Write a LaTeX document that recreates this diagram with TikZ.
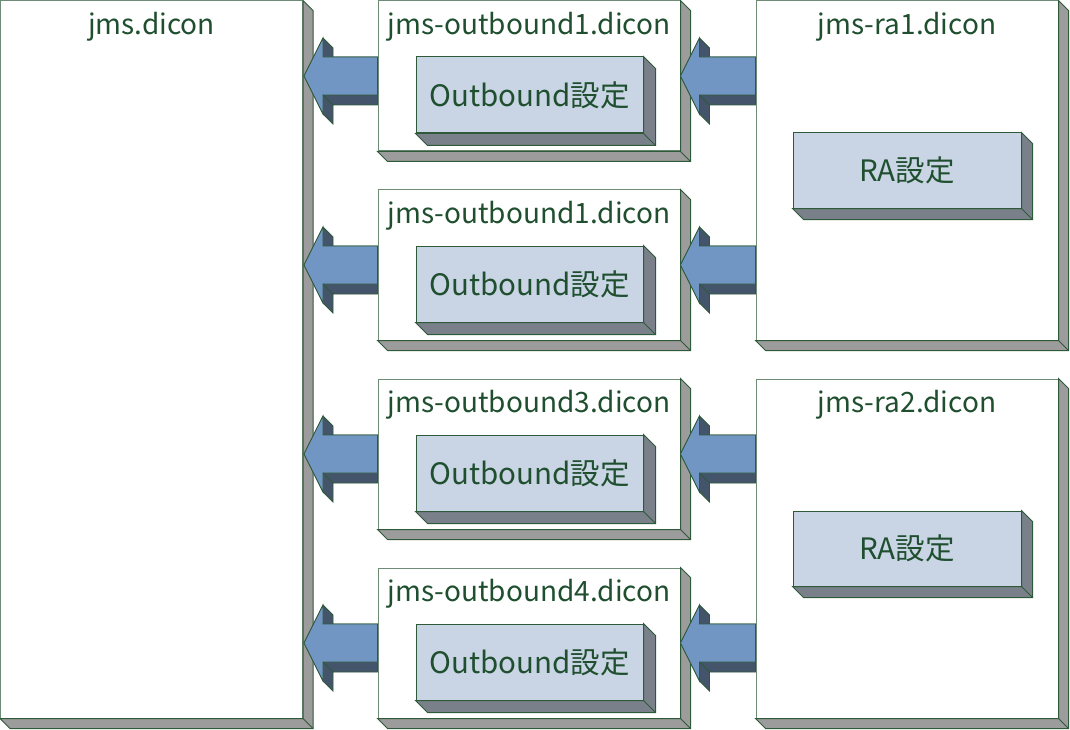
\documentclass[tikz,border=0pt]{standalone}
\usepackage{fontspec}
\setmainfont{Noto Sans CJK JP}
\usetikzlibrary{positioning,calc}

\definecolor{edgegreen}{HTML}{2E5A3A}
\definecolor{textgreen}{HTML}{1F4F2F}
\definecolor{sidegray}{HTML}{9C9C9C}
\definecolor{innerblue}{HTML}{C9D5E5}
\definecolor{innerside}{HTML}{7A808A}
\definecolor{arrowlight}{HTML}{7196C4}
\definecolor{arrowdark}{HTML}{44546A}

\tikzset{
  filebox/.style={draw=edgegreen!70, fill=white, line width=1pt, inner sep=0pt, minimum width=302pt},
  setbox/.style={draw=edgegreen, fill=innerblue, line width=1pt, inner sep=0pt,
    minimum width=227pt, minimum height=76pt, text=textgreen, font=\fontsize{29.5}{34}\selectfont},
  titletext/.style={text=textgreen, font=\fontsize{28}{34}\selectfont, inner sep=0pt, anchor=base},
  side/.style={draw=edgegreen, line width=1pt, line join=miter},
  arrowside/.style={fill=arrowdark, draw=edgegreen, line width=0.8pt},
  arrowfront/.style={fill=arrowlight, draw=edgegreen, line width=0.8pt},
}

% extrusion on the right and bottom of a box: #1 node, #2 depth, #3 colour
\newcommand\extrude[3]{%
  \filldraw[side, fill=#3] (#1.north east) -- ++(#2,#2) -- ($(#1.south east)+(#2,#2)$)
    -- ($(#1.south west)+(#2,#2)$) -- (#1.south west) -- (#1.south east) -- cycle;
  \draw[side] (#1.south east) -- ++(#2,#2);
}

% block arrow pointing left: #1 tip, #2 end of the shaft
\newcommand\blockarrow[2]{%
  \filldraw[arrowside] (#1) -- ($(#1)+(19,-38)$) -- ($(#1)+(29,-28)$) -- ($(#1)+(29,-19)$)
    -- ($(#2)+(0,-19)$) -- ($(#2)+(0,29)$) -- ($(#1)+(29,29)$) -- ($(#1)+(29,48)$)
    -- ($(#1)+(19,38)$) -- cycle;
  \filldraw[arrowfront] (#1) -- ($(#1)+(19,-38)$) -- ($(#1)+(19,-19)$) -- ($(#2)+(0,-19)$)
    -- ($(#2)+(0,19)$) -- ($(#1)+(19,19)$) -- ($(#1)+(19,38)$) -- cycle;
  \draw[arrowside] ($(#1)+(19,19)$) -- ($(#1)+(29,29)$);
}

\begin{document}
\begin{tikzpicture}[x=1pt, y=-1pt]
  \useasboundingbox (0,0) rectangle (1070,730);

  % dicon files
  \node[filebox, minimum height=717pt] (jms) at (151.5,359.5) {};
  \foreach \i/\y in {1/76, 2/265, 3/454, 4/643}
    \node[filebox, minimum height=150pt] (ob\i) at (529,\y) {};
  \node[filebox, minimum height=339pt] (ra1) at (907,170.5) {};
  \node[filebox, minimum height=339pt] (ra2) at (907,548.5) {};
  \foreach \n in {jms, ob1, ob2, ob3, ob4, ra1, ra2}
    \extrude{\n}{10}{sidegray};

  % file names
  \node[titletext] (jms-title) at ($(jms.north)+(0,34)$) {jms.dicon};
  \foreach \i/\t in {1/1, 2/1, 3/3, 4/4}
    \node[titletext] (ob\i-title) at ($(ob\i.north)+(0,34)$) {jms-outbound\t.dicon};
  \node[titletext] (ra1-title) at ($(ra1.north)+(0,34)$) {jms-ra1.dicon};
  \node[titletext] (ra2-title) at ($(ra2.north)+(0,34)$) {jms-ra2.dicon};

  % settings inside the files
  \foreach \i in {1,...,4} {
    \node[setbox] (ob\i-set) at ($(ob\i.center)+(0.5,19)$) {Outbound設定};
    \extrude{ob\i-set}{12}{innerside};
  }
  \foreach \i in {1,2} {
    \node[setbox, minimum width=228pt, minimum height=75pt] (ra\i-set) at (ra\i.center) {RA設定};
    \extrude{ra\i-set}{11}{innerside};
  }

  % includes
  \foreach \i/\r in {1/1, 2/1, 3/2, 4/2} {
    \coordinate (lt\i) at ($(jms.east |- ob\i.center)+(1,0)$);
    \coordinate (re\i) at (ra\r.west |- ob\i.center);
    \blockarrow{lt\i}{ob\i.west}
    \blockarrow{ob\i.east}{re\i}
  }
\end{tikzpicture}
\end{document}
